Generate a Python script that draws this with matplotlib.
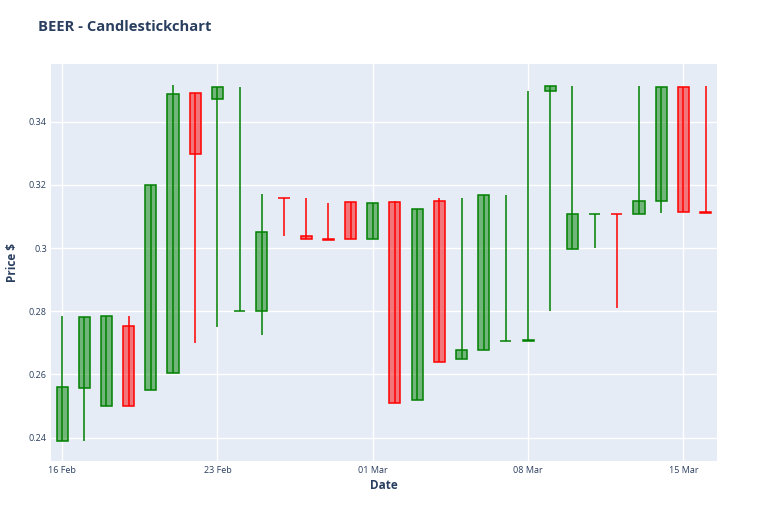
import matplotlib
matplotlib.use('Agg')
import matplotlib.pyplot as plt
import matplotlib.dates as mdates
import pandas as pd

plt.rcParams['font.family'] = ['Open Sans', 'DejaVu Sans']

# Daily BEER prices, 16 Feb - 16 Mar 2020
dates = pd.date_range("2020-02-16", "2020-03-16", freq="D")
opens = [0.2389, 0.2557, 0.2500, 0.2753, 0.2552, 0.2604, 0.3490, 0.3473, 0.2800, 0.2800,
         0.3159, 0.3040, 0.3028, 0.3145, 0.3030, 0.3145, 0.2518, 0.3150, 0.2649, 0.2676,
         0.2705, 0.2707, 0.3498, 0.2997, 0.3108, 0.3109, 0.3109, 0.3149, 0.3511, 0.3113]
highs = [0.2785, 0.2783, 0.2785, 0.2785, 0.3200, 0.3517, 0.3490, 0.3511, 0.3511, 0.3171,
         0.3159, 0.3159, 0.3144, 0.3145, 0.3144, 0.3148, 0.3124, 0.3158, 0.3159, 0.3169,
         0.3169, 0.3497, 0.3512, 0.3512, 0.3109, 0.3109, 0.3512, 0.3511, 0.3511, 0.3512]
lows = [0.2389, 0.2389, 0.2500, 0.2500, 0.2552, 0.2604, 0.2701, 0.2750, 0.2800, 0.2725,
        0.3040, 0.3028, 0.3027, 0.3030, 0.3030, 0.2510, 0.2518, 0.2638, 0.2649, 0.2676,
        0.2705, 0.2707, 0.2800, 0.2997, 0.2999, 0.2810, 0.3109, 0.3110, 0.3114, 0.3112]
closes = [0.2560, 0.2783, 0.2785, 0.2501, 0.3200, 0.3488, 0.3299, 0.3511, 0.2801, 0.3051,
          0.3158, 0.3028, 0.3027, 0.3030, 0.3144, 0.2510, 0.3124, 0.2638, 0.2676, 0.3169,
          0.2706, 0.2708, 0.3512, 0.3108, 0.3109, 0.3108, 0.3149, 0.3511, 0.3114, 0.3112]

TEXT = "#2a3f5f"
BG = "#E5ECF6"

fig = plt.figure(figsize=(7.68, 5.12), dpi=100)
ax = fig.add_axes([0.0664, 0.1002, 0.8668, 0.7748])
ax.set_facecolor(BG)

x = mdates.date2num(dates)
for xi, o, h, l, c in zip(x, opens, highs, lows, closes):
    if c > o:
        line, fill = "green", (0, 0.5, 0, 0.5)
    else:
        line, fill = "red", (1, 0, 0, 0.5)
    ax.vlines(xi, l, h, color=line, linewidth=1.1, zorder=2)
    ax.bar(xi, abs(c - o), bottom=min(o, c), width=0.5, color=fill,
           edgecolor=line, linewidth=1.1, zorder=3)

ax.set_xlim(mdates.date2num(pd.Timestamp("2020-02-15 12:00")),
            mdates.date2num(pd.Timestamp("2020-03-16 12:00")))
ax.set_ylim(0.2327, 0.3583)

xticks = pd.to_datetime(["2020-02-16", "2020-02-23", "2020-03-01", "2020-03-08", "2020-03-15"])
ax.set_xticks(mdates.date2num(xticks))
ax.set_xticklabels([d.strftime("%d %b") for d in xticks])
yticks = [0.24, 0.26, 0.28, 0.30, 0.32, 0.34]
ax.set_yticks(yticks)
ax.set_yticklabels(["0.24", "0.26", "0.28", "0.3", "0.32", "0.34"])

ax.grid(True, color="white", linewidth=1, zorder=0)
ax.set_axisbelow(True)
for s in ax.spines.values():
    s.set_visible(False)
ax.tick_params(axis="x", length=0, labelsize=6.5, labelcolor=TEXT, pad=4)
ax.tick_params(axis="y", length=0, labelsize=6.5, labelcolor=TEXT, pad=3)

ax.set_xlabel("Date", fontsize=8.5, fontweight="bold", color=TEXT, labelpad=3)
ax.set_ylabel("Price $", fontsize=8.5, fontweight="bold", color=TEXT, labelpad=7)
fig.text(0.049, 1 - 27 / 512, "BEER - Candlestickchart", fontsize=10.6,
         fontweight="bold", color=TEXT, va="center", ha="left")

fig.savefig("out.png", dpi=100)
plt.close(fig)
